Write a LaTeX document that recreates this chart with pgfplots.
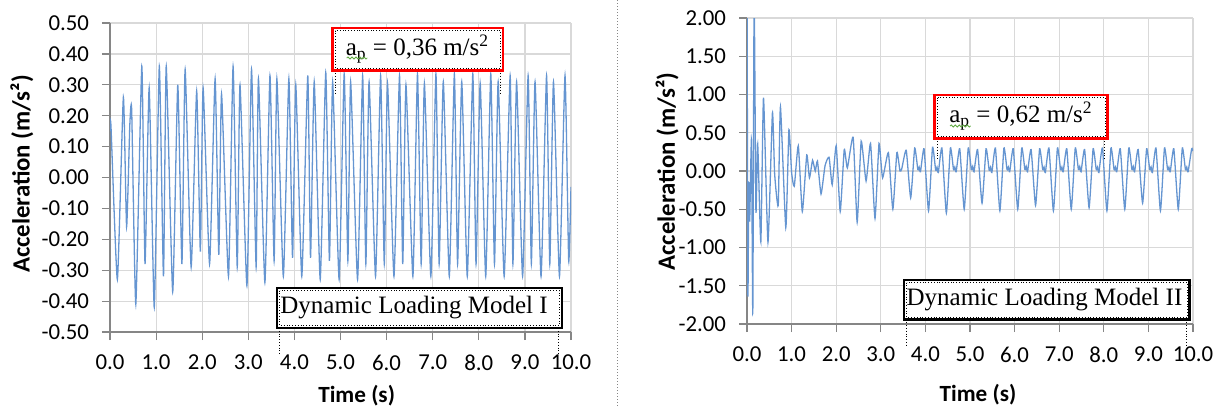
\documentclass[border=0pt]{standalone}
\usepackage{fontspec}
\setmainfont{Carlito}
\newfontfamily\tnr{Liberation Serif}
\usepackage{pgfplots}
\pgfplotsset{compat=1.18}
\usetikzlibrary{decorations.pathmorphing}
\definecolor{serie}{HTML}{6595D1}
\definecolor{gridc}{HTML}{D9D9D9}
\definecolor{axc}{HTML}{868686}
\definecolor{boxred}{HTML}{FF0000}
\definecolor{squig}{HTML}{5DA83E}

\pgfplotsset{
  accel/.style={
    scale only axis,
    axis x line*=bottom, axis y line*=left,
    axis line style={axc, line width=0.6pt, -},
    xmin=0, xmax=10, xtick={0,1,2,3,4,5,6,7,8,9,10},
    grid=major, major grid style={gridc, line width=0.6pt},
    tick align=outside, major tick length=4pt,
    tick style={axc, line width=0.6pt},
    tick label style={font=\fontsize{11.4}{13}\selectfont},
    /pgf/number format/assume math mode=true,
    x tick label style={/pgf/number format/fixed, /pgf/number format/fixed zerofill,
      /pgf/number format/precision=1, yshift=-4pt},
    y tick label style={/pgf/number format/fixed, /pgf/number format/fixed zerofill,
      /pgf/number format/precision=2, xshift=-3pt},
    xlabel style={font=\bfseries\fontsize{11.6}{13}\selectfont, anchor=center},
    ylabel style={font=\bfseries\fontsize{12.4}{14}\selectfont, anchor=center},
    xlabel={Time (s)}, ylabel={Acceleration (m/s²)},
  },
}

\begin{document}
\begin{tikzpicture}
\useasboundingbox (0,0) rectangle (610.5pt,-203.5pt);

% left: model I
\begin{axis}[accel,
  at={(55pt,-166pt)}, anchor=south west,
  width=230.5pt, height=154.5pt,
  ymin=-0.5, ymax=0.5,
  ytick={-0.5,-0.4,-0.3,-0.2,-0.1,0,0.1,0.2,0.3,0.4,0.5},
  xlabel style={at={(axis description cs:0.535,-0.207)}},
  ylabel style={at={(axis description cs:-0.191,0.511)}},
]
\addplot[serie, line width=0.65pt, smooth, tension=0.3] coordinates {
(0.00,0.15) (0.02,0.17) (0.16,-0.33) (0.29,0.26) (0.36,-0.16) (0.43,0.17)
(0.47,0.22) (0.56,-0.41) (0.69,0.36) (0.76,-0.28) (0.85,0.29) (0.96,-0.42)
(1.07,0.36) (1.16,-0.32) (1.22,0.36) (1.36,-0.37) (1.47,0.30) (1.56,-0.28)
(1.63,0.35) (1.76,-0.29) (1.88,0.28) (1.96,-0.24) (2.02,0.29) (2.16,-0.28)
(2.28,0.32) (2.36,-0.25) (2.42,0.27) (2.57,-0.32) (2.67,0.36) (2.76,-0.29)
(2.82,0.30) (2.97,-0.35) (3.07,0.35) (3.17,-0.29) (3.22,0.32) (3.36,-0.34)
(3.47,0.33) (3.56,-0.27) (3.62,0.32) (3.76,-0.32) (3.88,0.32) (3.96,-0.26)
(4.03,0.30) (4.16,-0.32) (4.29,0.33) (4.35,-0.26) (4.43,0.31) (4.56,-0.33)
(4.68,0.34) (4.76,-0.27) (4.83,0.31) (4.97,-0.33) (5.08,0.335) (5.16,-0.27)
(5.22,0.31) (5.37,-0.33) (5.48,0.33) (5.55,-0.28) (5.62,0.31) (5.76,-0.32)
(5.87,0.33) (5.95,-0.28) (6.02,0.305) (6.16,-0.32) (6.28,0.33) (6.35,-0.28)
(6.42,0.30) (6.57,-0.32) (6.67,0.335) (6.75,-0.28) (6.82,0.305) (6.96,-0.32)
(7.07,0.335) (7.14,-0.28) (7.23,0.31) (7.36,-0.32) (7.47,0.335) (7.54,-0.28)
(7.63,0.31) (7.75,-0.32) (7.87,0.335) (7.94,-0.28) (8.03,0.305) (8.15,-0.32)
(8.26,0.335) (8.34,-0.28) (8.42,0.31) (8.55,-0.32) (8.68,0.33) (8.74,-0.28)
(8.82,0.31) (8.95,-0.32) (9.07,0.33) (9.14,-0.28) (9.22,0.31) (9.35,-0.32)
(9.47,0.33) (9.54,-0.28) (9.62,0.31) (9.75,-0.32) (9.87,0.33) (9.95,-0.27)
(10.0,-0.03)
};
\end{axis}

% right: model II
\begin{axis}[accel,
  at={(373.5pt,-162pt)}, anchor=south west,
  width=223pt, height=153pt,
  ymin=-2, ymax=2,
  ytick={-2,-1.5,-1,-0.5,0,0.5,1,1.5,2},
  xlabel style={at={(axis description cs:0.518,-0.232)}},
  ylabel style={at={(axis description cs:-0.179,0.498)}},
]
\addplot[serie, line width=0.65pt, smooth, tension=0.3] coordinates {
(0.00,2.6) (0.02,-1.62) (0.04,-0.15) (0.06,-0.66) (0.10,0.41) (0.13,-1.86)
(0.16,2.3) (0.20,-0.53) (0.24,0.35) (0.31,-0.93) (0.37,0.96) (0.47,-0.93)
(0.57,0.76) (0.62,-0.04) (0.70,-0.45) (0.75,0.84) (0.87,-0.74) (0.94,0.54)
(1.00,-0.02) (1.06,-0.20) (1.15,0.33) (1.24,-0.53) (1.34,0.21) (1.40,-0.09)
(1.47,0.14) (1.53,0.00) (1.58,0.13) (1.66,-0.30) (1.75,0.07) (1.84,0.18)
(1.91,-0.18) (2.00,0.33) (2.09,-0.53) (2.18,0.28) (2.25,0.04) (2.38,0.44)
(2.47,-0.67) (2.56,0.39) (2.67,-0.13) (2.77,0.36) (2.87,-0.62) (2.96,0.36)
(3.04,-0.09) (3.17,0.24) (3.27,-0.50) (3.36,0.24) (3.43,0.00) (3.47,0.03)
(3.57,0.27) (3.67,-0.35)
(3.76,0.30) (3.83,0.02) (3.86,0.05) (3.89,-0.01) (3.97,0.29) (4.07,-0.52)
(4.16,0.31) (4.23,0.01) (4.26,0.05) (4.29,-0.02) (4.37,0.30) (4.47,-0.55)
(4.56,0.30) (4.63,0.02) (4.66,0.05) (4.69,-0.01) (4.77,0.29) (4.87,-0.50)
(4.96,0.30) (5.03,0.02) (5.06,0.06) (5.09,-0.01) (5.17,0.28) (5.27,-0.42)
(5.36,0.29) (5.43,0.01) (5.46,0.05) (5.49,-0.02) (5.57,0.30) (5.67,-0.52)
(5.76,0.30) (5.83,0.02) (5.86,0.05) (5.89,-0.01) (5.97,0.29) (6.07,-0.50)
(6.16,0.30) (6.23,0.02) (6.26,0.06) (6.29,-0.01) (6.37,0.28) (6.47,-0.45)
(6.56,0.29) (6.63,0.02) (6.66,0.05) (6.69,-0.02) (6.77,0.30) (6.87,-0.52)
(6.96,0.30) (7.03,0.02) (7.06,0.05) (7.09,-0.01) (7.17,0.29) (7.27,-0.50)
(7.36,0.30) (7.43,0.02) (7.46,0.06) (7.49,-0.01) (7.57,0.28) (7.67,-0.48)
(7.76,0.29) (7.83,0.02) (7.86,0.05) (7.89,-0.02) (7.97,0.30) (8.07,-0.52)
(8.16,0.30) (8.23,0.02) (8.26,0.05) (8.29,-0.01) (8.37,0.29) (8.47,-0.50)
(8.56,0.30) (8.63,0.02) (8.66,0.06) (8.69,-0.01) (8.77,0.28) (8.87,-0.42)
(8.96,0.29) (9.03,0.02) (9.06,0.05) (9.09,-0.02) (9.17,0.30) (9.27,-0.52)
(9.36,0.30) (9.43,0.02) (9.46,0.05) (9.49,-0.01) (9.57,0.29) (9.67,-0.50)
(9.76,0.30) (9.83,0.02) (9.86,0.05) (9.89,-0.01) (9.97,0.29) (10.0,0.26)
};
\end{axis}

% callouts, in pixel units of the reference
\begin{scope}[x=0.5pt, y=-0.5pt]
\draw[axc, densely dotted, line width=0.5pt] (617,0) -- (617,407);
% left peak box
\draw[black, densely dotted, line width=0.4pt] (335,70.5) -- (335,93) (500.5,70.5) -- (500.5,93);
\draw[boxred, line width=1.3pt, fill=white] (332.5,28) rectangle (503,70.5);
\draw[black, densely dotted, line width=0.4pt] (335,30.5) rectangle (500.5,68);
\node[font=\tnr\fontsize{12.5}{14}\selectfont] at (417.5,49) {a\textsubscript{p} = 0,36 m/s\textsuperscript{2}};
\draw[squig, line width=0.4pt, decorate, decoration={snake, amplitude=0.5pt, segment length=2pt}] (346.7,58) -- (367.3,58);
% left model box
\draw[black, densely dotted, line width=0.4pt] (279,328) -- (279,355) (558,328) -- (558,355);
\draw[black, line width=1.3pt, fill=white] (277,288) rectangle (562,328);
\draw[black, densely dotted, line width=0.4pt] (279.5,290.5) rectangle (559.5,325.5);
\node[font=\tnr\fontsize{12.5}{14}\selectfont] at (414,308) {Dynamic Loading Model I};
% right peak box
\draw[black, densely dotted, line width=0.4pt] (937,138.5) -- (937,160) (1104,138.5) -- (1104,160);
\draw[boxred, line width=1.3pt, fill=white] (934.5,95) rectangle (1107.5,138.5);
\draw[black, densely dotted, line width=0.4pt] (937,97.5) rectangle (1105,136);
\node[font=\tnr\fontsize{12.5}{14}\selectfont] at (1021,116) {a\textsubscript{p} = 0,62 m/s\textsuperscript{2}};
\draw[squig, line width=0.4pt, decorate, decoration={snake, amplitude=0.5pt, segment length=2pt}] (950,126) -- (970.7,126);
% right model box
\draw[black, densely dotted, line width=0.4pt] (906,319.5) -- (906,347) (1186,319.5) -- (1186,347);
\draw[black, line width=1.3pt, fill=white] (904,280) rectangle (1189.5,319.5);
\draw[black, densely dotted, line width=0.4pt] (906.5,282.5) rectangle (1187,317);
\node[font=\tnr\fontsize{12.5}{14}\selectfont] at (1044.5,300) {Dynamic Loading Model II};
\end{scope}
\end{tikzpicture}
\end{document}
